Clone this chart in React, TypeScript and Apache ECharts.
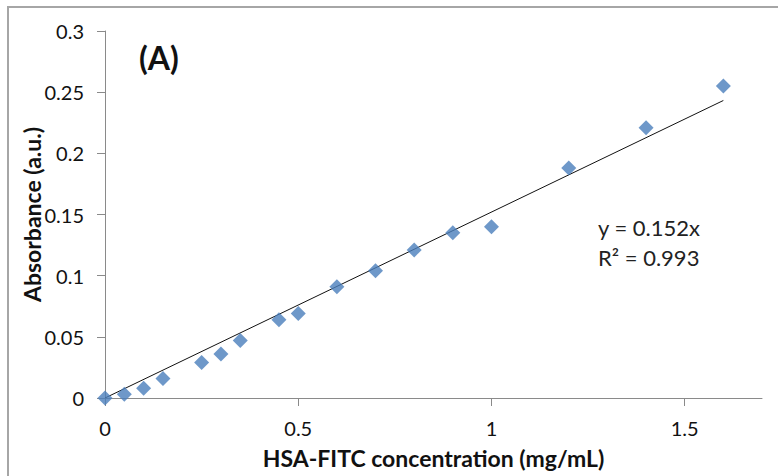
import React, { useEffect, useRef } from "react";
import * as echarts from "echarts";

const concentrations = [0, 0.05, 0.1, 0.15, 0.25, 0.3, 0.35, 0.45, 0.5, 0.6, 0.7, 0.8, 0.9, 1.0, 1.2, 1.4, 1.6];
const absorbances = [0, 0.003, 0.008, 0.016, 0.029, 0.036, 0.047, 0.064, 0.069, 0.091, 0.104, 0.121, 0.135, 0.14, 0.188, 0.221, 0.255];
const slope = 0.152;
const fitRange = [0, 1.6];
const xTicks = [0, 0.5, 1, 1.5];
const yTicks = [0, 0.05, 0.1, 0.15, 0.2, 0.25, 0.3];
const equationLines = ["y = 0.152x", "R\u00b2 = 0.993"];
const panelLabel = "(A)";
const xTitle = "HSA-FITC concentration (mg/mL)";
const yTitle = "Absorbance (a.u.)";

const FONT = "Lato, 'Open Sans', sans-serif";

export default function App() {
  const ref = useRef<HTMLDivElement>(null);
  useEffect(() => {
    if (!ref.current) return;
    const chart = echarts.init(ref.current, null, { renderer: "svg" });
    const points = concentrations.map((c, i) => [c, absorbances[i]]);
    const fit = fitRange.map((x) => [x, slope * x]);
    chart.setOption({
      animation: false,
      backgroundColor: "#ffffff",
      textStyle: { fontFamily: FONT },
      grid: { left: 105, right: 16, top: 31, bottom: 78, containLabel: false },
      xAxis: {
        type: "value",
        min: 0,
        max: 1.7,
        interval: 0.5,
        name: xTitle,
        nameLocation: "middle",
        nameGap: 48,
        nameMoveOverlap: false,
        nameTextStyle: { fontFamily: FONT, fontSize: 23, fontWeight: "bold", color: "#111" },
        axisLine: { show: true, lineStyle: { color: "#8a8a8a", width: 1 } },
        axisTick: { show: true, length: 8, lineStyle: { color: "#8a8a8a" }, customValues: xTicks },
        axisLabel: { customValues: xTicks, margin: 20, fontFamily: FONT, fontSize: 20, color: "#111" },
        splitLine: { show: false },
      },
      yAxis: {
        type: "value",
        min: 0,
        max: 0.3,
        interval: 0.05,
        name: yTitle,
        nameLocation: "middle",
        nameGap: 62,
        nameMoveOverlap: false,
        nameTextStyle: { fontFamily: FONT, fontSize: 23, fontWeight: "bold", color: "#111" },
        axisLine: { show: true, lineStyle: { color: "#8a8a8a", width: 1 } },
        axisTick: { show: true, length: 8, lineStyle: { color: "#8a8a8a" }, customValues: yTicks },
        axisLabel: { customValues: yTicks, margin: 21, fontFamily: FONT, fontSize: 20, color: "#111" },
        splitLine: { show: false },
      },
      series: [
        {
          type: "line",
          data: fit,
          symbol: "none",
          lineStyle: { color: "#111", width: 1 },
          z: 2,
        },
        {
          type: "scatter",
          data: points,
          symbol: "diamond",
          symbolSize: 15,
          itemStyle: { color: "#4a7ebb" },
          z: 3,
        },
      ],
      graphic: [
        {
          type: "rect",
          shape: { x: 8, y: 7, width: 900, height: 600 },
          style: { fill: "none", stroke: "#a6a6a6", lineWidth: 2 },
          silent: true,
        },
        {
          type: "text",
          left: 139,
          top: 41,
          style: { text: panelLabel, font: `bold 32px ${FONT}`, fill: "#111" },
        },
        {
          type: "text",
          left: 598,
          top: 212,
          style: { text: equationLines.join("\n"), font: `22px ${FONT}`, fill: "#222", lineHeight: 30 },
        },
      ],
    });
    return () => chart.dispose();
  }, []);
  return <div ref={ref} style={{ position: "absolute", left: 0, top: 0, width: 778, height: 476 }} />;
}
